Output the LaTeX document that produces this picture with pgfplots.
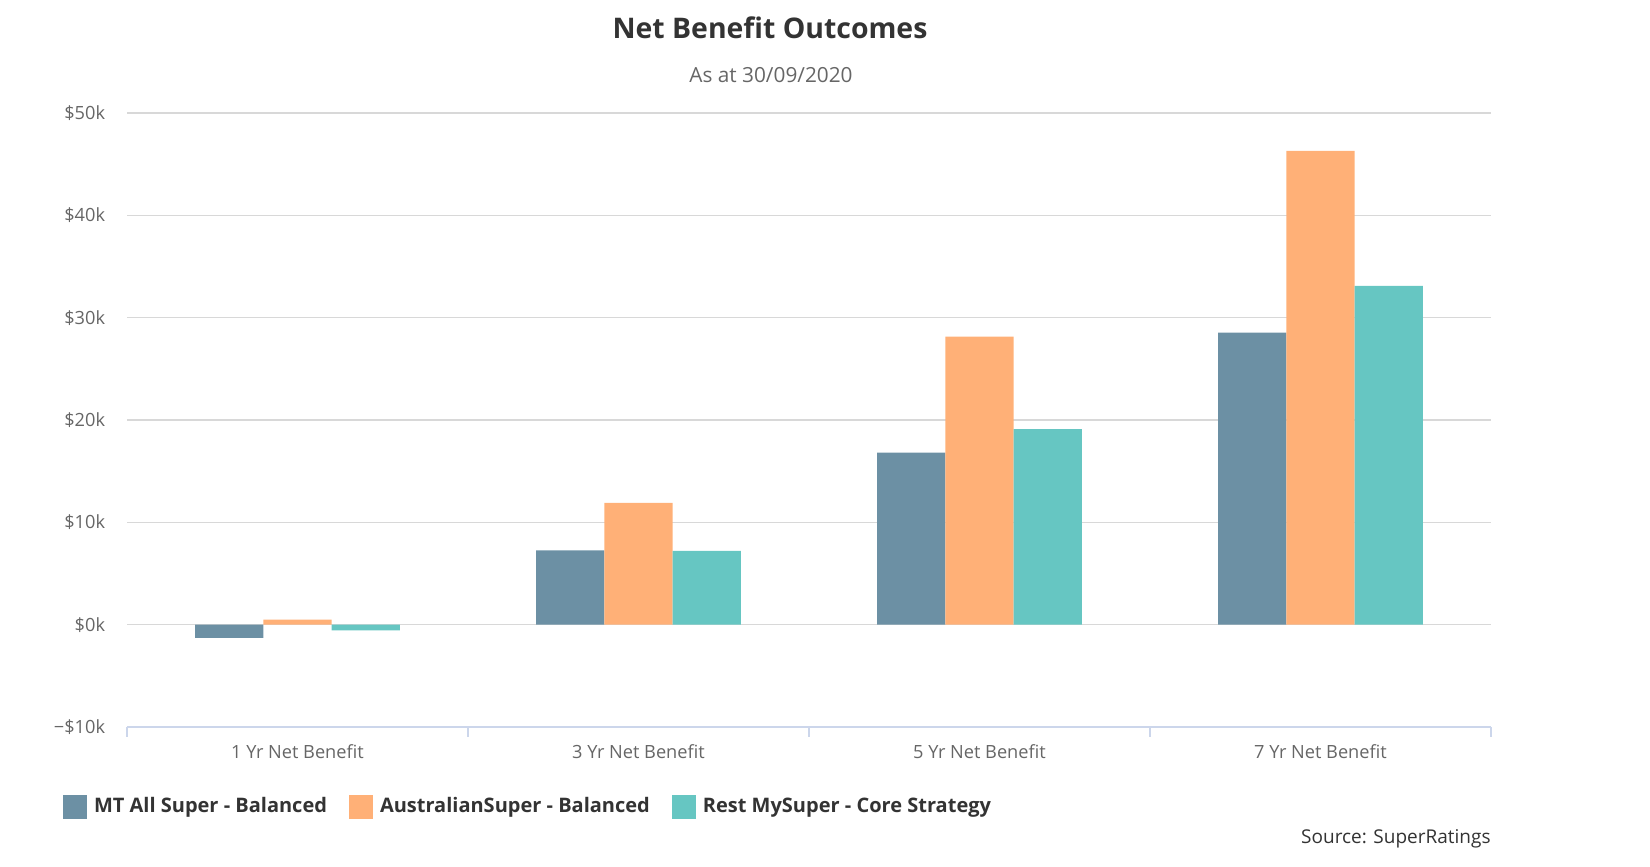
\documentclass[border=0pt]{standalone}
\usepackage{pgfplots}
\pgfplotsset{compat=1.18}
\usepackage{fontspec}
\setmainfont{Open Sans}
\definecolor{cMT}{HTML}{6C90A4}
\definecolor{cAU}{HTML}{FFB077}
\definecolor{cRE}{HTML}{66C6C2}
\definecolor{tdark}{HTML}{333333}
\definecolor{tgrey}{HTML}{666666}
\definecolor{gridc}{HTML}{D8D8D8}
\definecolor{axc}{HTML}{CCD6EB}
\begin{document}
\begin{tikzpicture}
\useasboundingbox (0,0) rectangle (825pt,433.5pt);
\begin{axis}[
  at={(63.5pt,70pt)}, anchor=south west,
  scale only axis, width=682pt, height=307pt,
  xmin=-0.5, xmax=3.5, ymin=-10000, ymax=50000,
  scaled y ticks=false,
  axis x line*=bottom, axis y line*=left,
  y axis line style={draw=none},
  x axis line style={draw=axc, line width=0.8pt},
  xtick={0,1,2,3},
  xticklabels={1 Yr Net Benefit,3 Yr Net Benefit,5 Yr Net Benefit,7 Yr Net Benefit},
  major x tick style={draw=none},
  minor xtick={-0.5,0.5,1.5,2.5,3.5},
  minor x tick style={draw=axc, line width=0.8pt},
  minor tick length=5pt,
  tick align=outside,
  ytick={-10000,0,10000,20000,30000,40000,50000},
  yticklabels={−\$10k,\$0k,\$10k,\$20k,\$30k,\$40k,\$50k},
  major y tick style={draw=none},
  ymajorgrids, grid style={draw=gridc, line width=0.6pt},
  yticklabel style={font=\fontsize{9.1}{11}\selectfont, text=tgrey, inner sep=0pt, xshift=-6.5pt},
  xticklabel style={font=\fontsize{9.1}{11}\selectfont, text=tgrey, inner sep=0pt, yshift=-4.5pt},
  bar width=0.2,
  ybar,
  legend style={at={(-0.0469,-0.13)}, anchor=west, draw=none, fill=none,
    legend columns=3, font=\fontsize{10}{12}\selectfont\bfseries, text=tdark,
    /tikz/every even column/.append style={column sep=9pt},
    /tikz/every odd column/.append style={column sep=1.5pt},
    inner sep=0pt, outer sep=0pt, legend cell align=left},
  legend image code/.code={\fill[#1] (0pt,-6pt) rectangle (12pt,6pt);},
]
\addplot[fill=cMT, draw=none, bar shift=-0.2] coordinates {(0,-1300) (1,7250) (2,16800) (3,28550)};
\addplot[fill=cAU, draw=none, bar shift=0] coordinates {(0,500) (1,11900) (2,28150) (3,46300)};
\addplot[fill=cRE, draw=none, bar shift=0.2] coordinates {(0,-550) (1,7200) (2,19100) (3,33100)};
\legend{MT All Super - Balanced, AustralianSuper - Balanced, Rest MySuper - Core Strategy}
\end{axis}
\node[text=tdark, font=\fontsize{14.2}{17}\selectfont\bfseries] at (385pt,419.5pt) {Net Benefit Outcomes};
\node[text=tgrey, font=\fontsize{10.4}{12}\selectfont] at (385.5pt,396pt) {As at 30/09/2020};
\node[text=tdark, font=\fontsize{9.5}{11}\selectfont, anchor=east, inner sep=0pt] at (745.5pt,14pt) {Source: SuperRatings};
\end{tikzpicture}
\end{document}
